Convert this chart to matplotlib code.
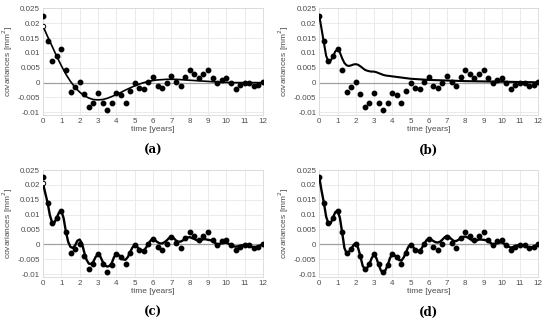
import numpy as np
from matplotlib import pyplot as plt

# empirical covariances, every 0.25 years
t_emp = np.arange(0, 12.01, 0.25)
cov_emp = [0.0225, 0.014, 0.0073, 0.009, 0.0112, 0.0041, -0.003, -0.0015,
           0.0002, -0.004, -0.0082, -0.0067, -0.0034, -0.0067, -0.0093, -0.007,
           -0.0034, -0.0043, -0.0067, -0.0028, -0.0003, -0.0018, -0.0023, 0.0002,
           0.0018, -0.001, -0.0018, 0.0, 0.0023, 0.0003, -0.0013, 0.002,
           0.0042, 0.0028, 0.0014, 0.0029, 0.0042, 0.0016, -0.0001, 0.001,
           0.0015, -0.0001, -0.002, -0.0009, -0.0002, -0.0003, -0.0012, -0.0009,
           0.0001]

# fitted covariance functions
t_fit_a = np.arange(0, 12.01, 0.25)
fit_a = [0.019, 0.0155, 0.0122, 0.0088, 0.0057, 0.0028, 0.0004, -0.0016,
         -0.0032, -0.0044, -0.0052, -0.0057, -0.0058, -0.0057, -0.0053, -0.0047,
         -0.004, -0.0033, -0.0025, -0.0018, -0.0011, -0.0005, 0.0, 0.0004,
         0.0007, 0.0009, 0.001, 0.0011, 0.0011, 0.0011, 0.001, 0.0009,
         0.0008, 0.0007, 0.0006, 0.0005, 0.0004, 0.0003, 0.0002, 0.0001,
         0.0001, 0.0, 0.0, 0.0, 0.0, 0.0, 0.0, 0.0,
         0.0]

t_fit_b = np.concatenate([np.arange(0, 5.01, 0.125), np.arange(5.5, 12.01, 0.5)])
fit_b = [0.0225, 0.018, 0.0135, 0.009, 0.0071, 0.0074, 0.0088, 0.0105,
         0.0112, 0.0102, 0.0082, 0.0066, 0.0058, 0.0056, 0.0058, 0.0061,
         0.0062, 0.006, 0.0055, 0.0049, 0.0043, 0.004, 0.0038, 0.0037,
         0.0037, 0.0035, 0.0032, 0.0029, 0.0026, 0.0024, 0.0023, 0.0022,
         0.0021, 0.002, 0.0019, 0.0018, 0.0017, 0.0016, 0.0015, 0.0014,
         0.0013,
         0.0011, 0.0009, 0.0008, 0.0007, 0.0006, 0.0005, 0.00045, 0.0004,
         0.00035, 0.0003, 0.00025, 0.0002, 0.00015, 0.0001]

t_fit_cd = np.arange(0, 12.01, 0.125)
fit_c = [0.0205, 0.0172, 0.014, 0.0098, 0.0073, 0.0073, 0.009, 0.0107,
         0.0112, 0.0088, 0.0042, 0.0008, -0.0009, -0.0012, -0.0004, 0.0012,
         0.0016, 0.0003, -0.0027, -0.0052, -0.0065, -0.0066, -0.0058, -0.0042,
         -0.0034, -0.0041, -0.0058, -0.0071, -0.0075, -0.0073, -0.0063, -0.0043,
         -0.0033, -0.0036, -0.0044, -0.0051, -0.0052, -0.0043, -0.0027, -0.0011,
         -0.0003, -0.0008, -0.0016, -0.0021, -0.0021, -0.0011, 0.0002, 0.0013,
         0.0017, 0.0013, 0.0007, 0.0003, 0.0003, 0.0007, 0.0013, 0.0021,
         0.0024, 0.0021, 0.0013, 0.0009, 0.0009, 0.0013, 0.0019, 0.0023,
         0.0024, 0.0021, 0.0018, 0.0014, 0.0012, 0.0014, 0.0017, 0.0017,
         0.0015, 0.0014, 0.0012, 0.0005, 0.0, 0.0001, 0.0004, 0.0005,
         0.0005, 0.0002, -0.0002, -0.0006, -0.0008, -0.0007, -0.0005, -0.0003,
         -0.0002, -0.0003, -0.0005, -0.0008, -0.001, -0.0009, -0.0007, -0.0003,
         0.0]
fit_d = [0.0225, 0.018, 0.014, 0.0093, 0.007, 0.0071, 0.009, 0.0108,
         0.0113, 0.009, 0.0041, -0.0012, -0.0031, -0.0025, -0.0016, -0.0002,
         0.0003, -0.0012, -0.004, -0.0072, -0.0084, -0.0079, -0.0066, -0.0046,
         -0.0035, -0.0046, -0.0068, -0.0088, -0.0095, -0.0087, -0.007, -0.0046,
         -0.0034, -0.0037, -0.0045, -0.0053, -0.0055, -0.0044, -0.0027, -0.0009,
         -0.0001, -0.0008, -0.0018, -0.0023, -0.0023, -0.0012, 0.0002, 0.0014,
         0.0019, 0.0016, 0.0011, 0.0007, 0.0006, 0.0009, 0.0016, 0.0024,
         0.0028, 0.0024, 0.0017, 0.0011, 0.0011, 0.0015, 0.0021, 0.0025,
         0.0026, 0.0023, 0.0018, 0.0013, 0.0011, 0.0013, 0.0016, 0.0016,
         0.0015, 0.0014, 0.0011, 0.0005, 0.0, 0.0001, 0.0004, 0.0006,
         0.0006, 0.0002, -0.0003, -0.0008, -0.0011, -0.0009, -0.0006, -0.0003,
         -0.0002, -0.0003, -0.0005, -0.0009, -0.0011, -0.001, -0.0008, -0.0004,
         0.0]

y_ticks = [-0.01, -0.005, 0, 0.005, 0.01, 0.015, 0.02, 0.025]
y_ticklabels = ['-0.01', '-0.005', '0', '0.005', '0.01', '0.015', '0.02', '0.025']
x_ticks = list(range(0, 13))
captions = ['(a)', '(b)', '(c)', '(d)']

plt.rcParams['font.family'] = ['Liberation Sans', 'DejaVu Sans']

W, H = 550, 322
fig = plt.figure(figsize=(W / 100, H / 100), dpi=100)

# axes boxes in pixels: left, top, right, bottom
boxes = [(43, 8.3, 263, 115.3), (319.3, 8.3, 538.3, 115.3),
         (43, 170, 263, 277), (319.3, 170, 538.3, 277)]
curves = [(t_fit_a, fit_a, 1.2, True), (t_fit_b, fit_b, 1.5, False),
          (t_fit_cd, fit_c, 1.7, True), (t_fit_cd, fit_d, 1.7, False)]

for box, (tf, yf, lw, open_start), cap in zip(boxes, curves, captions):
    l, t, r, b = box
    ax = fig.add_axes([l / W, 1 - b / H, (r - l) / W, (b - t) / H])
    ax.set_xlim(0, 12)
    ax.set_ylim(-0.011, 0.025)
    ax.set_xticks(x_ticks)
    ax.set_yticks(y_ticks)
    ax.set_yticklabels(y_ticklabels)
    ax.grid(True, color='#e8e8e8', lw=0.6)
    ax.set_axisbelow(True)
    for s in ax.spines.values():
        s.set_color('#d8d8d8')
        s.set_linewidth(0.6)
    ax.tick_params(labelsize=5.8, colors='#4d4d4d', length=0, pad=2)
    ax.axhline(0, color='#a0a0a0', lw=0.9, zorder=1)
    ax.plot(tf, yf, color='black', lw=lw, zorder=3)
    ax.plot(t_emp, cov_emp, 'o', color='black', ms=3.2, zorder=4)
    if open_start:
        ax.plot(tf[0], yf[0], 'o', mfc='white', mec='black', ms=3.2, mew=0.7, zorder=5)
    ax.set_xlabel('time [years]', fontsize=6, color='#4d4d4d', labelpad=1)
    ax.set_ylabel('covariances [mm$^2$]', fontsize=6, color='#4d4d4d', labelpad=2)
    ax.text(0.5, -0.27, cap, transform=ax.transAxes, ha='center', va='top',
            fontsize=8.5, fontweight='bold', family='DejaVu Serif')

fig.savefig('out.png', dpi=100)
